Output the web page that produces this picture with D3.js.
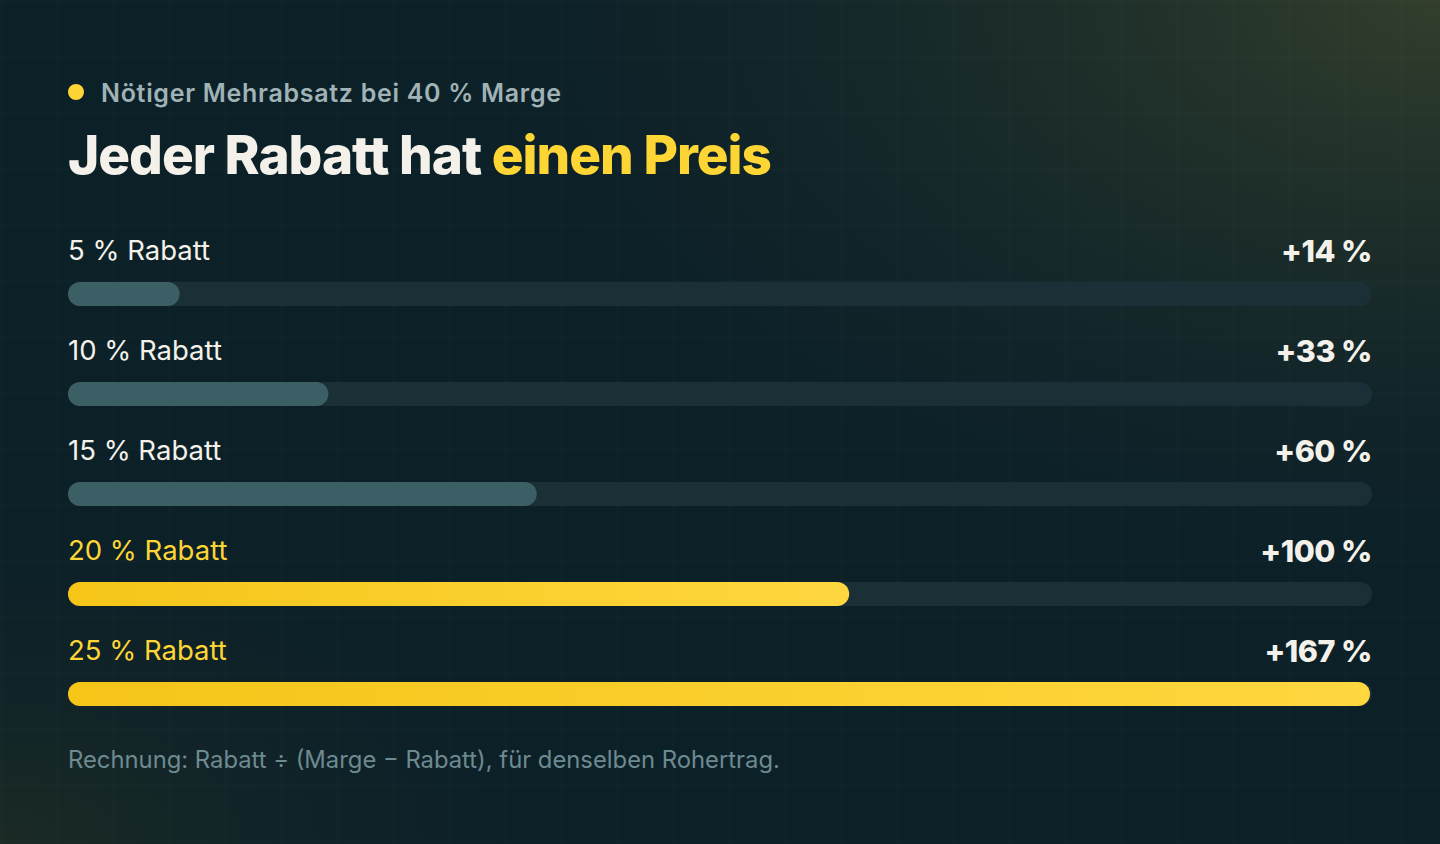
<!DOCTYPE html>
<html>
<head>
<meta charset="utf-8">
<script src="https://cdn.jsdelivr.net/npm/d3@7"></script>
<style>
  html, body { margin: 0; padding: 0; background: #0c2028; }
  svg { display: block; }
</style>
</head>
<body>
<script>
// data
var labels = ['5 % Rabatt', '10 % Rabatt', '15 % Rabatt', '20 % Rabatt', '25 % Rabatt'];
var uplift = [14.29, 33.33, 60, 100, 166.67];
var highlight = [false, false, false, true, true];

var W = 1440, H = 844;
var margin = {left: 68, right: 68};

var svg = d3.select('body')
  .append('svg')
  .attr('width', W)
  .attr('height', H);

var defs = svg.append('defs');

// background glows
var g1 = defs.append('radialGradient').attr('id', 'glowTR')
  .attr('cx', 1).attr('cy', 0).attr('r', 0.75);
g1.append('stop').attr('offset', 0).attr('stop-color', '#333f2c').attr('stop-opacity', 1);
g1.append('stop').attr('offset', 0.45).attr('stop-color', '#1e2f2a').attr('stop-opacity', 0.7);
g1.append('stop').attr('offset', 1).attr('stop-color', '#0c2028').attr('stop-opacity', 0);

var g2 = defs.append('radialGradient').attr('id', 'glowBL')
  .attr('cx', 0).attr('cy', 1).attr('r', 0.45);
g2.append('stop').attr('offset', 0).attr('stop-color', '#1b2a25').attr('stop-opacity', 1);
g2.append('stop').attr('offset', 1).attr('stop-color', '#0c2028').attr('stop-opacity', 0);

var yel = defs.append('linearGradient').attr('id', 'yellow')
  .attr('x1', 0).attr('x2', 1).attr('y1', 0).attr('y2', 0);
yel.append('stop').attr('offset', 0).attr('stop-color', '#f5c518');
yel.append('stop').attr('offset', 1).attr('stop-color', '#ffd73f');

svg.append('rect').attr('width', W).attr('height', H).attr('fill', '#0c2028');
svg.append('rect').attr('width', W).attr('height', H).attr('fill', 'url(#glowTR)');
svg.append('rect').attr('width', W).attr('height', H).attr('fill', 'url(#glowBL)');

// faint grid
var grid = svg.append('g').attr('stroke', '#ffffff').attr('stroke-opacity', 0.025).attr('stroke-width', 1);
grid.selectAll('line.v')
  .data(d3.range(1, W, 56))
  .enter().append('line')
  .attr('x1', d => d + 0.5).attr('x2', d => d + 0.5)
  .attr('y1', 0).attr('y2', H);
grid.selectAll('line.h')
  .data(d3.range(1, H, 56))
  .enter().append('line')
  .attr('y1', d => d + 0.5).attr('y2', d => d + 0.5)
  .attr('x1', 0).attr('x2', W);

// header
svg.append('circle')
  .attr('cx', 76).attr('cy', 92).attr('r', 8)
  .attr('fill', '#fdd535');

svg.append('text')
  .attr('x', 101).attr('y', 102)
  .attr('font-family', 'Inter, sans-serif')
  .attr('font-weight', 600)
  .attr('font-size', '25px')
  .attr('letter-spacing', '0.7px')
  .attr('fill', '#9fb2b5')
  .text('Nötiger Mehrabsatz bei 40 % Marge');

var title = svg.append('text')
  .attr('x', margin.left).attr('y', 174)
  .attr('font-family', 'Inter, sans-serif')
  .attr('font-weight', 800)
  .attr('font-size', '53px')
  .attr('letter-spacing', '-1px');
title.append('tspan').attr('fill', '#f4f1ea').text('Jeder Rabatt hat ');
title.append('tspan').attr('fill', '#fdd535').text('einen Preis');

// bars
var x = d3.scaleLinear()
  .domain([0, d3.max(uplift)])
  .range([margin.left, W - margin.right - 2]);

var y = d3.scaleBand()
  .domain(d3.range(labels.length))
  .range([236, 736]);

var barH = 24;

var rows = svg.append('g')
  .selectAll('g')
  .data(labels)
  .enter().append('g')
  .attr('transform', (d, i) => `translate(0,${y(i)})`);

rows.append('text')
  .attr('x', margin.left).attr('y', 24)
  .attr('font-family', 'Inter, sans-serif')
  .attr('font-size', '27.5px')
  .attr('font-weight', 400)
  .attr('fill', (d, i) => highlight[i] ? '#fdd535' : '#f4f1ea')
  .text(d => d);

rows.append('text')
  .attr('x', W - margin.right).attr('y', 26)
  .attr('text-anchor', 'end')
  .attr('font-family', 'Inter, sans-serif')
  .attr('font-size', '30.5px')
  .attr('font-weight', 800)
  .attr('letter-spacing', '-0.5px')
  .attr('fill', '#f4f1ea')
  .text((d, i) => '+' + Math.round(uplift[i]) + ' %');

rows.append('rect')
  .attr('x', margin.left).attr('y', 46)
  .attr('width', W - margin.left - margin.right)
  .attr('height', barH)
  .attr('rx', barH / 2)
  .attr('fill', '#1b3036');

rows.append('rect')
  .attr('x', margin.left).attr('y', 46)
  .attr('width', (d, i) => x(uplift[i]) - margin.left)
  .attr('height', barH)
  .attr('rx', barH / 2)
  .attr('fill', (d, i) => highlight[i] ? 'url(#yellow)' : '#3c5f66');

// footnote
svg.append('text')
  .attr('x', margin.left).attr('y', 768)
  .attr('font-family', 'Inter, sans-serif')
  .attr('font-size', '23.8px')
  .attr('fill', '#6d8a91')
  .text('Rechnung: Rabatt ÷ (Marge − Rabatt), für denselben Rohertrag.');
</script>
</body>
</html>
